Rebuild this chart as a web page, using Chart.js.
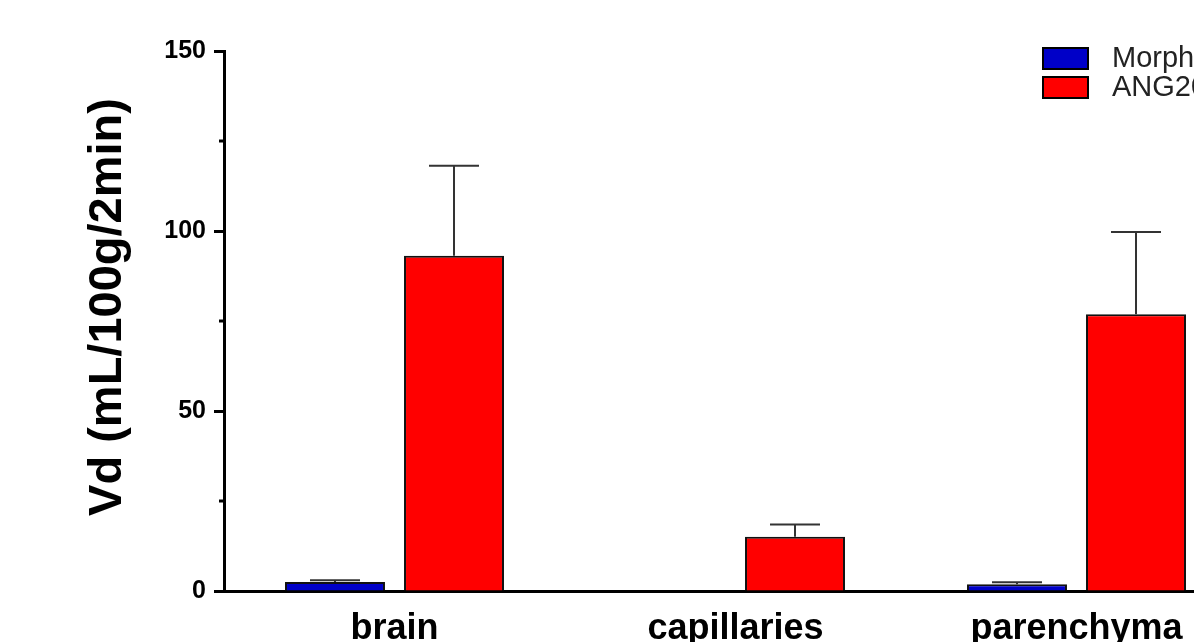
<!DOCTYPE html>
<html>
<head>
<meta charset="utf-8">
<script src="https://cdn.jsdelivr.net/npm/chart.js@4.4.1/dist/chart.umd.min.js"></script>
<style>
  html, body { margin: 0; padding: 0; background: #fff; overflow: hidden; }
  #wrap { position: relative; width: 1320px; height: 642px; }
</style>
</head>
<body>
<div id="wrap"><canvas id="chart"></canvas></div>
<script>
// Brain distribution volume, 2-minute perfusion
const categories = ['brain', 'capillaries', 'parenchyma'];
const seriesNames = ['Morphine', 'ANG2002'];
const morphineVd = [2.5, 0, 1.9];
const morphineErr = [3.0, 0, 2.4];     // mean + SEM
const ang2002Vd = [93.1, 15.1, 76.9];
const ang2002Err = [118.1, 18.5, 99.7]; // mean + SEM
const yTickValues = [0, 50, 100, 150];
const yMinorTicks = [25, 75, 125];
const yTitle = 'Vd (mL/100g/2min)';

const FONT = '"Liberation Sans", Arial, sans-serif';

// Upper error whiskers with a cap half as wide as the bar
const errorBars = {
  id: 'errorBars',
  afterDatasetsDraw(chart) {
    const y = chart.scales.y;
    const ctx = chart.ctx;
    ctx.save();
    ctx.strokeStyle = '#333';
    ctx.lineWidth = 2;
    chart.data.datasets.forEach((ds, di) => {
      const meta = chart.getDatasetMeta(di);
      meta.data.forEach((bar, i) => {
        if (!(ds.errorTop[i] > ds.data[i])) return;
        const top = y.getPixelForValue(ds.errorTop[i]);
        const half = bar.width / 4;
        ctx.beginPath();
        ctx.moveTo(bar.x, bar.y);
        ctx.lineTo(bar.x, top);
        ctx.moveTo(bar.x - half, top);
        ctx.lineTo(bar.x + half, top);
        ctx.stroke();
      });
    });
    ctx.restore();
  }
};

// Short minor ticks, rotated axis title and the legend
const decorations = {
  id: 'decorations',
  afterDraw(chart) {
    const ctx = chart.ctx;
    const y = chart.scales.y;
    const left = chart.chartArea.left;
    ctx.save();
    ctx.strokeStyle = '#000';
    ctx.lineWidth = 3;
    yMinorTicks.forEach(v => {
      const py = y.getPixelForValue(v);
      ctx.beginPath();
      ctx.moveTo(left - 5, py);
      ctx.lineTo(left, py);
      ctx.stroke();
    });

    ctx.translate(108, 307);
    ctx.rotate(-Math.PI / 2);
    ctx.fillStyle = '#000';
    ctx.font = 'bold 47px ' + FONT;
    ctx.textAlign = 'center';
    ctx.textBaseline = 'middle';
    ctx.fillText(yTitle, 0, 0);
    ctx.restore();

    ctx.save();
    chart.data.datasets.forEach((ds, i) => {
      const bx = 1043, by = 48 + i * 29;
      ctx.fillStyle = ds.backgroundColor;
      ctx.fillRect(bx, by, 45, 21);
      ctx.strokeStyle = '#000';
      ctx.lineWidth = 2;
      ctx.strokeRect(bx, by, 45, 21);
      ctx.fillStyle = '#222';
      ctx.font = '29px ' + FONT;
      ctx.textBaseline = 'middle';
      ctx.textAlign = 'left';
      ctx.fillText(ds.label, 1112, by + 11);
    });
    ctx.restore();
  }
};

new Chart(document.getElementById('chart'), {
  type: 'bar',
  data: {
    labels: categories,
    datasets: [
      { label: seriesNames[0], data: morphineVd, errorTop: morphineErr,
        backgroundColor: '#0000c8', borderColor: '#111', borderWidth: 2 },
      { label: seriesNames[1], data: ang2002Vd, errorTop: ang2002Err,
        backgroundColor: '#ff0000', borderColor: '#111', borderWidth: 2 }
    ]
  },
  options: {
    responsive: true,
    maintainAspectRatio: false,
    animation: false,
    layout: { padding: { top: 51, right: 73, bottom: 0, left: 0 } },
    datasets: { bar: { categoryPercentage: 0.698, barPercentage: 0.84 } },
    plugins: { legend: { display: false }, tooltip: { enabled: false } },
    scales: {
      x: {
        grid: { display: false, drawTicks: false },
        border: { display: true, color: '#000', width: 3 },
        ticks: { color: '#000', padding: 16, font: { family: FONT, size: 36, weight: 'bold' } },
        afterFit(scale) { scale.height = 51; }
      },
      y: {
        min: 0, max: 150,
        afterBuildTicks(scale) { scale.ticks = yTickValues.map(v => ({ value: v })); },
        grid: { drawOnChartArea: false, tickLength: 10, tickWidth: 3, tickColor: '#000' },
        border: { display: true, color: '#000', width: 3 },
        ticks: { color: '#000', padding: 8, font: { family: FONT, size: 25, weight: 'bold' } },
        afterFit(scale) { scale.width = 224; }
      }
    }
  },
  plugins: [errorBars, decorations]
});
</script>
</body>
</html>
